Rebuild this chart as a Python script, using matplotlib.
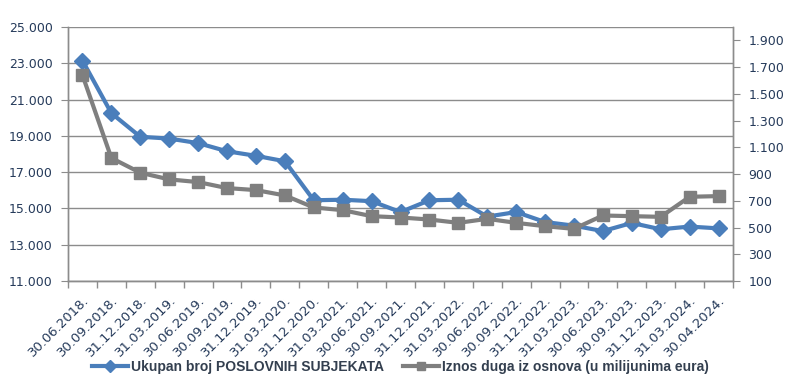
import matplotlib
matplotlib.use("Agg")
import matplotlib.pyplot as plt
from matplotlib.ticker import FuncFormatter, FixedLocator
from matplotlib.transforms import ScaledTranslation
from matplotlib.lines import Line2D
import numpy as np

categories = ["30.06.2018.", "30.09.2018.", "31.12.2018.", "31.03.2019.", "30.06.2019.",
              "30.09.2019.", "31.12.2019.", "31.03.2020.", "31.12.2020.", "31.03.2021.",
              "30.06.2021.", "30.09.2021.", "31.12.2021.", "31.03.2022.", "30.06.2022.",
              "30.09.2022.", "31.12.2022.", "31.03.2023.", "30.06.2023.", "30.09.2023.",
              "31.12.2023.", "31.03.2024.", "30.04.2024."]
subjekti = [23150, 20250, 18950, 18850, 18600, 18150, 17900, 17600, 15450, 15480,
            15400, 14800, 15450, 15480, 14550, 14800, 14250, 14050, 13750, 14200,
            13850, 14000, 13900]
dug = [1640, 1020, 910, 860, 840, 795, 780, 740, 650, 630,
       585, 575, 560, 535, 565, 535, 510, 490, 590, 585,
       580, 730, 735]
label_blue = "Ukupan broj POSLOVNIH SUBJEKATA"
label_gray = "Iznos duga iz osnova (u milijunima eura)"

blue = "#4A7EBB"
gray = "#7F7F7F"
grid_c = "#8C8C8C"
txt_c = "#253A5A"

def fmt(v, p):
    return f"{int(round(v)):,}".replace(",", ".")

fig = plt.figure(figsize=(7.91, 3.81), dpi=100)
ax = fig.add_axes([68/791, 1-281/381, (733-68)/791, (281-27)/381])
ax2 = ax.twinx()

x = np.arange(len(categories))
ax.plot(x, subjekti, color=blue, lw=3, marker="D", ms=8.5, zorder=4)
ax2.plot(x, dug, color=gray, lw=3, marker="s", ms=8.5, zorder=3)

ax.set_xlim(-0.5, len(categories) - 0.5)
ax.set_ylim(11000, 25000)
ax.set_yticks(np.arange(11000, 25001, 2000))
ax2.set_ylim(100, 2000)
ax2.set_yticks(np.arange(100, 2000, 200))
ax.yaxis.set_major_formatter(FuncFormatter(fmt))
ax2.yaxis.set_major_formatter(FuncFormatter(fmt))

ax.grid(axis="y", color=grid_c, lw=1)
ax.set_axisbelow(True)

ax.set_xticks(x)
labels = ax.set_xticklabels(categories, rotation=45, ha="right", va="top", rotation_mode="anchor",
                            color=txt_c, fontsize=9.5)
off = ScaledTranslation(4/100, 0, fig.dpi_scale_trans)
for lab in labels:
    lab.set_transform(lab.get_transform() + off)
ax.tick_params(axis="x", length=0, pad=9)
ax.xaxis.set_minor_locator(FixedLocator(np.arange(-0.5, len(categories), 1)))
ax.tick_params(axis="x", which="minor", length=5, color=grid_c, width=1)

ax.tick_params(axis="y", length=5, color=grid_c, labelcolor=txt_c, labelsize=9, pad=6)
ax2.tick_params(axis="y", length=5, color=grid_c, labelcolor=txt_c, labelsize=9, pad=6)

for a in (ax, ax2):
    a.spines["top"].set_visible(False)
    for s in ("left", "right", "bottom"):
        a.spines[s].set_color(grid_c)
        a.spines[s].set_linewidth(1)

h1 = Line2D([], [], color=blue, lw=3, marker="D", ms=6)
h2 = Line2D([], [], color=gray, lw=3, marker="s", ms=6)
fig.legend([h1, h2], [label_blue, label_gray], loc="center", bbox_to_anchor=(0.506, 1-367/381),
           ncol=2, frameon=False, handlelength=2.6, handletextpad=0.2, columnspacing=1.4,
           prop={"family": ["Liberation Sans", "DejaVu Sans"], "weight": "bold", "size": 10},
           labelcolor="#333F4F")

fig.savefig("out.png", dpi=100)
